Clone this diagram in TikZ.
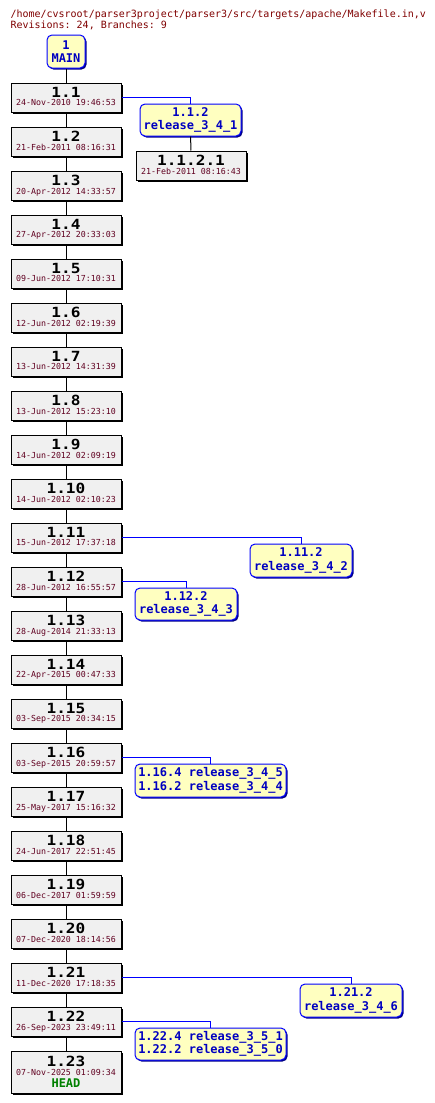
\documentclass[tikz,border=0pt]{standalone}
\usepackage{fontspec}
\setmonofont{DejaVu Sans Mono}
\newfontfamily\revfont[FakeStretch=1.15]{DejaVu Sans Mono}
\usetikzlibrary{shadows}

\definecolor{pathred}{HTML}{800000}
\definecolor{datered}{HTML}{600020}
\definecolor{tagblue}{HTML}{0000C0}
\definecolor{linkblue}{HTML}{0000FF}
\definecolor{revgray}{HTML}{F0F0F0}
\definecolor{tagyellow}{HTML}{FFFFC0}
\definecolor{headgreen}{HTML}{008000}

\newcommand\revnum{\revfont\bfseries\fontsize{14}{14}\selectfont}
\newcommand\revdate{\ttfamily\fontsize{8.3}{8.3}\selectfont\color{datered}}
\newcommand\revlabel[2]{\vbox{\baselineskip=8.5pt\lineskiplimit=-\maxdimen
  \halign{\hfil##\hfil\cr{\revnum #1}\cr{\revdate #2\vphantom{p}}\cr}}}

\begin{document}
\begin{tikzpicture}[x=1pt, y=-1pt, line width=1pt,
    rev/.style={draw, fill=revgray, minimum width=110pt, minimum height=29pt, inner sep=0pt,
      drop shadow={shadow xshift=1.5pt, shadow yshift=-1.5pt, fill=black, opacity=1}},
    tag/.style={draw=linkblue, fill=tagyellow, rounded corners=5pt, inner sep=0pt, align=center,
      text=tagblue, font=\ttfamily\bfseries\fontsize{12}{13.5}\selectfont,
      drop shadow={shadow xshift=1.5pt, shadow yshift=-1.5pt, fill=tagblue!70!black, opacity=1}},
    tagline/.style={color=linkblue}]
  \useasboundingbox[fill=white] (0,0) rectangle (434,1103);

  % header
  \node[anchor=base west, inner sep=0pt, text=pathred, font=\ttfamily\fontsize{10}{10}\selectfont]
    (file) at (10,17) {/home/cvsroot/parser3project/parser3/src/targets/apache/Makefile.in,v};
  \node[anchor=base west, inner sep=0pt, text=pathred, font=\ttfamily\fontsize{10}{10}\selectfont]
    (stats) at (10,28) {Revisions: 24, Branches: 9};

  % trunk
  \node[tag, minimum width=38pt, minimum height=33pt] (main) at (66,51.5) {1\\MAIN};
  \foreach \n/\d in {1/24-Nov-2010 19:46:53, 2/21-Feb-2011 08:16:31, 3/20-Apr-2012 14:33:57,
      4/27-Apr-2012 20:33:03, 5/09-Jun-2012 17:10:31, 6/12-Jun-2012 02:19:39,
      7/13-Jun-2012 14:31:39, 8/13-Jun-2012 15:23:10, 9/14-Jun-2012 02:09:19,
      10/14-Jun-2012 02:10:23, 11/15-Jun-2012 17:37:18, 12/28-Jun-2012 16:55:57,
      13/28-Aug-2014 21:33:13, 14/22-Apr-2015 00:47:33, 15/03-Sep-2015 20:34:15,
      16/03-Sep-2015 20:59:57, 17/25-May-2017 15:16:32, 18/24-Jun-2017 22:51:45,
      19/06-Dec-2017 01:59:59, 20/07-Dec-2020 18:14:56, 21/11-Dec-2020 17:18:35,
      22/26-Sep-2023 23:49:11}
    \node[rev] (r\n) at (66,{97.5+44*(\n-1)}) {\revlabel{1.\n}{\d}};
  \node[rev, minimum height=42pt] (r23) at (66,1072)
    {\vbox{\baselineskip=8.5pt\lineskiplimit=-\maxdimen
      \halign{\hfil#\hfil\cr{\revnum 1.23}\cr{\revdate 07-Nov-2025 01:09:34\vphantom{p}}\cr
      \noalign{\vskip4pt}{\ttfamily\bfseries\fontsize{12}{12}\selectfont\color{headgreen}HEAD}\cr}}};

  \draw (main) -- (r1);
  \foreach \n [evaluate=\n as \m using int(\n+1)] in {1,...,22}
    \draw (r\n) -- (r\m);

  % branches
  \node[tag, minimum width=101pt, minimum height=32pt] (b112) at (190.5,120) {1.1.2\\release\_3\_4\_1};
  \node[rev] (r1121) at (191,165.5) {\revlabel{1.1.2.1}{21-Feb-2011 08:16:43}};
  \node[tag, minimum width=102pt, minimum height=33pt] (b1112) at (301,560.5) {1.11.2\\release\_3\_4\_2};
  \node[tag, minimum width=102pt, minimum height=32pt] (b1122) at (186,604) {1.12.2\\release\_3\_4\_3};
  \node[tag, minimum width=151pt, minimum height=33pt] (b116) at (210.5,780.5)
    {1.16.4 release\_3\_4\_5\\1.16.2 release\_3\_4\_4};
  \node[tag, minimum width=102pt, minimum height=33pt] (b1212) at (351,1000.5) {1.21.2\\release\_3\_4\_6};
  \node[tag, minimum width=151pt, minimum height=32pt] (b122) at (210.5,1044)
    {1.22.4 release\_3\_5\_1\\1.22.2 release\_3\_5\_0};

  \draw[tagline] (r1.east) -| (b112.north);
  \draw (b112) -- (r1121);
  \draw[tagline] (r11.east) -| (b1112.north);
  \draw[tagline] (r12.east) -| (b1122.north);
  \draw[tagline] (r16.east) -| (b116.north);
  \draw[tagline] (r21.east) -| (b1212.north);
  \draw[tagline] (r22.east) -| (b122.north);
\end{tikzpicture}
\end{document}
